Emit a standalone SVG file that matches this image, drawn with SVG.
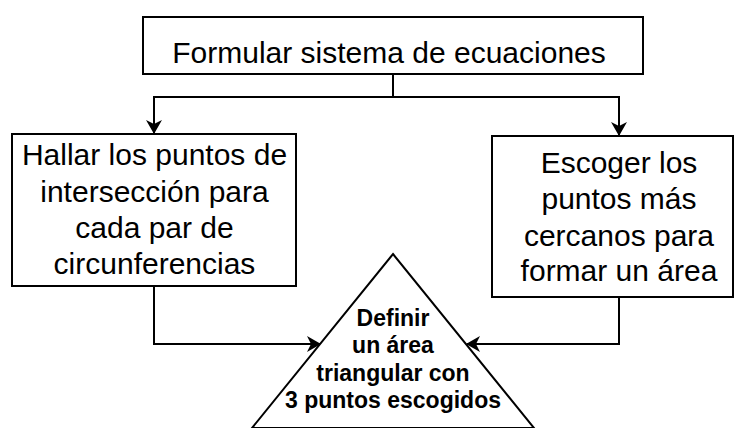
<svg xmlns="http://www.w3.org/2000/svg" width="734" height="428" viewBox="0 0 734 428">
<style>
.box{fill:#fff;stroke:#000;stroke-width:2}
.t{font-family:"Liberation Sans",Arial,sans-serif;font-size:30px;fill:#000;text-anchor:middle}
.b{font-family:"Liberation Sans",Arial,sans-serif;font-size:23px;font-weight:bold;fill:#000;text-anchor:middle}
.c{fill:none;stroke:#000;stroke-width:2}
</style>
<defs>
<marker id="ah" viewBox="0 0 14 16" refX="13" refY="8" markerWidth="14" markerHeight="16" markerUnits="userSpaceOnUse" orient="auto">
<path d="M0,0 L14,8 L0,16 L4,8 Z" fill="#000"/>
</marker>
</defs>
<rect width="734" height="428" fill="#fff"/>
<g id="connectors">
<path class="c" d="M393,74 V97 H154 V133" marker-end="url(#ah)"/>
<path class="c" d="M393,97 H619 V135" marker-end="url(#ah)"/>
<path class="c" d="M154,286 V344 H320" marker-end="url(#ah)"/>
<path class="c" d="M619,297 V344 H467" marker-end="url(#ah)"/>
</g>
<g id="n1">
<rect class="box" x="143" y="17" width="500" height="57"/>
<text class="t" x="389" y="63">Formular sistema de ecuaciones</text>
</g>
<g id="n2">
<rect class="box" x="12" y="134" width="284" height="152"/>
<text class="t" x="154.5" y="165">Hallar los puntos de</text>
<text class="t" x="154.5" y="201.5">intersección para</text>
<text class="t" x="154.5" y="238">cada par de</text>
<text class="t" x="154.5" y="274">circunferencias</text>
</g>
<g id="n3">
<rect class="box" x="492" y="136" width="241" height="161"/>
<text class="t" x="619" y="173">Escoger los</text>
<text class="t" x="619" y="209">puntos más</text>
<text class="t" x="619" y="246">cercanos para</text>
<text class="t" x="619" y="281">formar un área</text>
</g>
<g id="n4">
<path class="box" d="M393,254 L534,428 L252,428 Z"/>
<text class="b" x="393" y="326">Definir</text>
<text class="b" x="393" y="353">un área</text>
<text class="b" x="393" y="381">triangular con</text>
<text class="b" x="393" y="408">3 puntos escogidos</text>
</g>
</svg>
